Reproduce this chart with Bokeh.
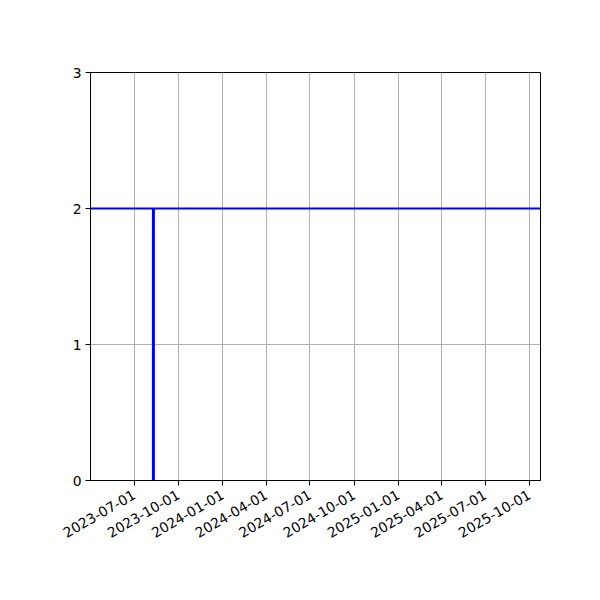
from datetime import datetime
import math
from bokeh.plotting import figure
from bokeh.models import Range1d, FixedTicker, DatetimeTickFormatter, Span, ColumnDataSource
from bokeh.embed import file_html
from bokeh.resources import INLINE

# data
event_dates = [datetime(2023, 8, 10)]
event_bottom = [0]
event_top = [2]
level_value = 2
tick_dates = ["2023-07-01", "2023-10-01", "2024-01-01", "2024-04-01", "2024-07-01",
              "2024-10-01", "2025-01-01", "2025-04-01", "2025-07-01", "2025-10-01"]
y_ticks = [0, 1, 2, 3]
x_start = datetime(2023, 4, 1)
x_end = datetime(2025, 10, 24)

def ms(d):
    return (d - datetime(1970, 1, 1)).total_seconds() * 1000.0

p = figure(x_axis_type="datetime", output_backend="svg", toolbar_location=None,
           frame_width=450, frame_height=408,
           x_range=Range1d(ms(x_start), ms(x_end)), y_range=Range1d(0, 3),
           min_border_left=90, min_border_top=72, min_border_right=60, min_border_bottom=120)
p.background_fill_color = "white"
p.border_fill_color = "white"
p.outline_line_color = "black"
p.outline_line_width = 1

src = ColumnDataSource(dict(x=event_dates, y0=event_bottom, y1=event_top))
p.segment(x0="x", y0="y0", x1="x", y1="y1", source=src, line_color="#0000ff", line_width=3)
p.add_layout(Span(location=level_value, dimension="width", line_color="#0000ff", line_width=2))

p.xaxis.ticker = FixedTicker(ticks=[ms(datetime.strptime(t, "%Y-%m-%d")) for t in tick_dates])
p.xaxis.formatter = DatetimeTickFormatter(days="%Y-%m-%d", months="%Y-%m-%d", years="%Y-%m-%d",
                                          hours="%Y-%m-%d", minutes="%Y-%m-%d", seconds="%Y-%m-%d",
                                          milliseconds="%Y-%m-%d", microseconds="%Y-%m-%d",
                                          minsec="%Y-%m-%d", hourmin="%Y-%m-%d")
p.xaxis.major_label_orientation = math.pi / 6
p.yaxis.ticker = FixedTicker(ticks=y_ticks)

for ax in [p.xaxis, p.yaxis]:
    ax.axis_line_color = "black"
    ax.major_tick_line_color = "black"
    ax.major_tick_out = 5
    ax.major_tick_in = 0
    ax.minor_tick_line_color = None
    ax.major_label_text_font = "DejaVu Sans"
    ax.major_label_text_font_size = "13.9px"
    ax.major_label_text_color = "black"
p.yaxis.major_label_standoff = 4
p.xaxis.major_label_standoff = 8

p.xgrid.ticker = p.xaxis.ticker
p.ygrid.ticker = p.yaxis.ticker
p.grid.grid_line_color = "#b0b0b0"
p.grid.grid_line_width = 1

open("out.html", "w").write(file_html(p, INLINE))
